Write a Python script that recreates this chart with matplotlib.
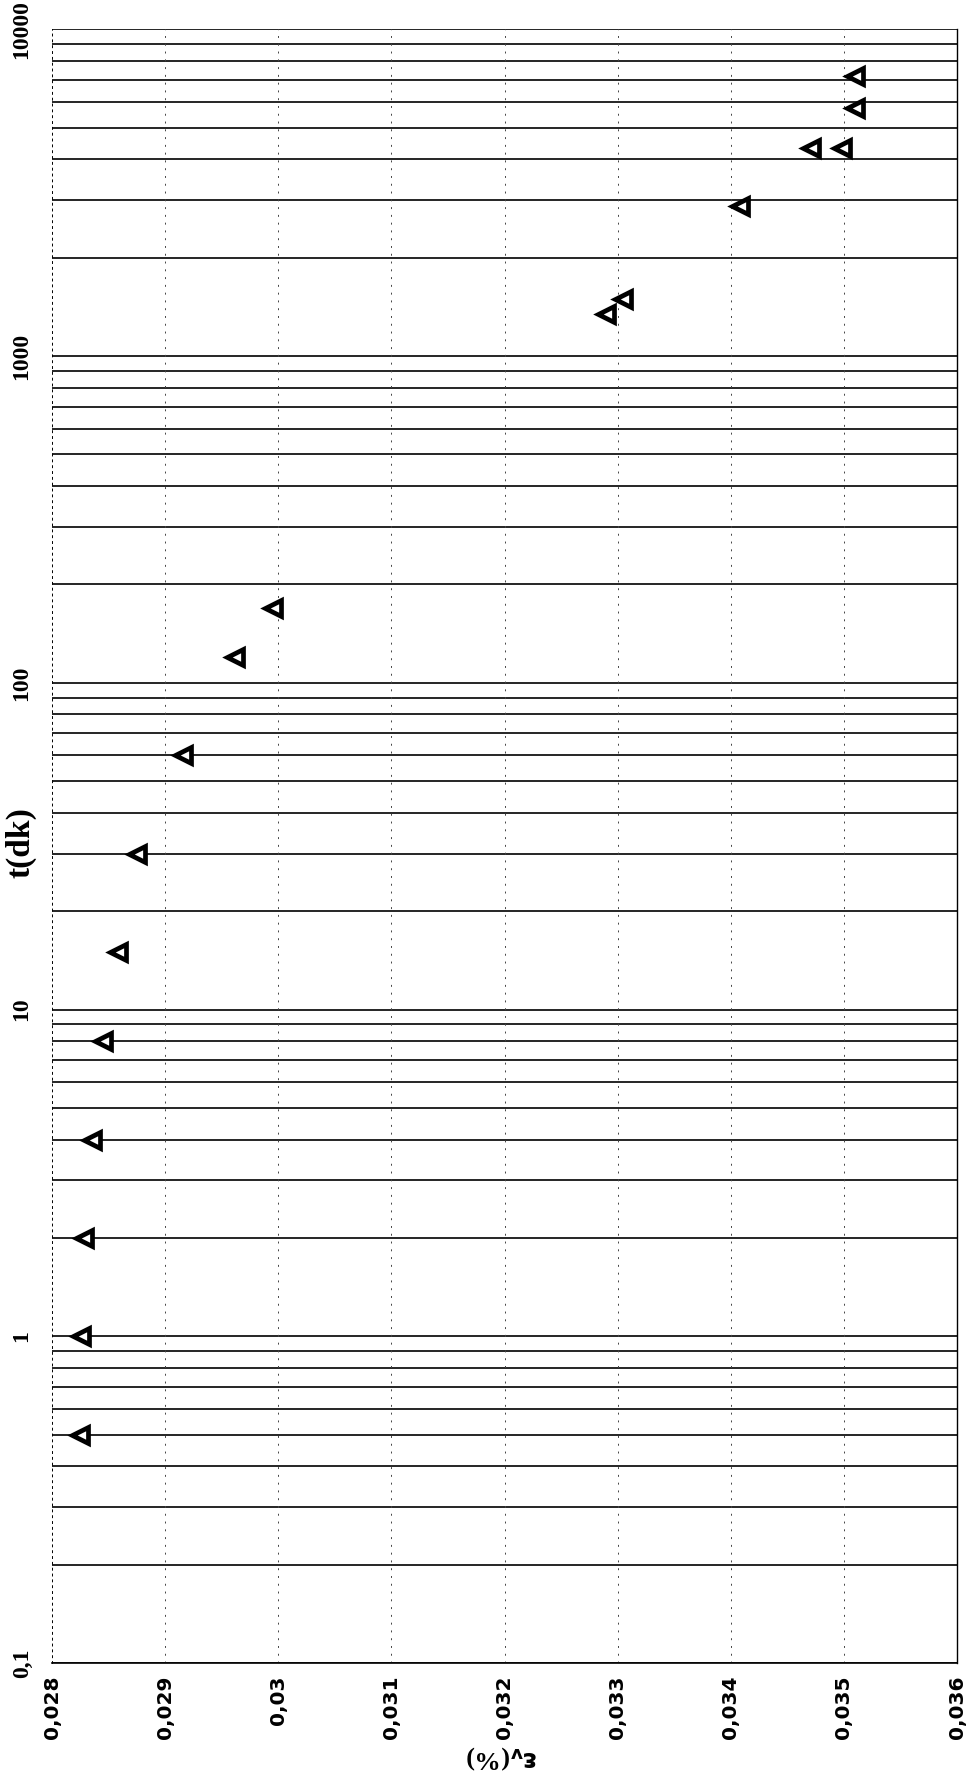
import numpy as np
import matplotlib
matplotlib.use('Agg')
import matplotlib.pyplot as plt
from matplotlib.ticker import FixedLocator, NullFormatter

# creep data: strain (%) vs time (dk)
strain = [0.03510, 0.03510, 0.03471, 0.03498, 0.03408, 0.03305, 0.03290,
          0.02995, 0.02962, 0.02916, 0.02875, 0.02858, 0.02845, 0.02835,
          0.02828, 0.02826, 0.02825]
time_dk = [7200, 5760, 4320, 4320, 2880, 1500, 1350,
           170, 120, 60, 30, 15, 8, 4,
           2, 1, 0.5]

x_ticks = [0.028, 0.029, 0.030, 0.031, 0.032, 0.033, 0.034, 0.035, 0.036]
x_tick_labels = ['0,028', '0,029', '0,03', '0,031', '0,032', '0,033', '0,034', '0,035', '0,036']
y_ticks = [0.1, 1, 10, 100, 1000, 10000]
y_tick_labels = ['0,1', '1', '10', '100', '1000', '10000']

fig = plt.figure(figsize=(9.71, 17.71), dpi=100)
ax = fig.add_axes([0.0536, 0.061, 0.932, 0.9224])

ax.set_yscale('log')
ax.set_xlim(0.028, 0.036)
ax.set_ylim(0.1, 10000)

# horizontal log grid (major + minor), solid black
grid_vals = [m * 10.0 ** k for k in range(-1, 4) for m in range(1, 10)] + [10000]
for g in grid_vals:
    ax.axhline(g, color='black', lw=1.2, zorder=1)

# vertical dashed grid
for xv in x_ticks[1:-1]:
    ax.axvline(xv, color='#444444', lw=0.7, ls=(0, (2, 6)), zorder=1)

ax.plot(strain, time_dk, ls='none', marker='<', ms=12, mfc='white',
        mec='black', mew=3.4, zorder=3)

ax.xaxis.set_major_locator(FixedLocator(x_ticks))
ax.set_xticklabels(x_tick_labels, rotation=90, fontsize=14.5, fontweight='bold',
                   family='DejaVu Sans')
ax.yaxis.set_major_locator(FixedLocator(y_ticks))
ax.yaxis.set_minor_formatter(NullFormatter())
ax.set_yticklabels(y_tick_labels, rotation=90, va='center', fontsize=17,
                   fontweight='bold', family='Liberation Serif')
ax.tick_params(axis='x', which='both', length=0, pad=9)
ax.tick_params(axis='y', which='both', length=0, pad=14)

ax.spines['top'].set_visible(False)
ax.spines['left'].set_linestyle((0, (2, 4)))
ax.spines['left'].set_linewidth(0.7)
ax.spines['right'].set_linewidth(1.0)
ax.spines['bottom'].set_linewidth(1.2)

fig.text(0.022, 0.524, 't(dk)', rotation=90, ha='center', va='center',
         fontsize=24, fontweight='bold', family='Liberation Serif')
fig.text(0.517, 0.0, r'$\mathbf{\varepsilon_v}$(%)', rotation=180, ha='center',
         va='bottom', fontsize=19, fontweight='bold', family='Liberation Serif')

plt.savefig('out.png', dpi=100, facecolor='white')
